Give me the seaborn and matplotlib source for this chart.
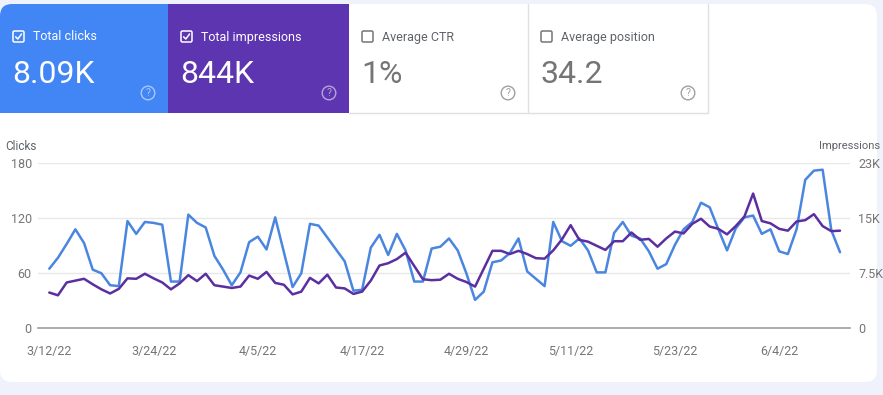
import numpy as np
import pandas as pd
import matplotlib
matplotlib.use("Agg")
import matplotlib.pyplot as plt
import matplotlib.dates as mdates
from matplotlib.patches import FancyBboxPatch, Rectangle, Circle
from matplotlib.lines import Line2D
import seaborn as sns

# ---------------- data ----------------
start_date = "2022-03-12"
clicks = [65, 77, 92, 108, 93, 64, 60, 47, 46, 117,
          103, 116, 115, 113, 51, 51, 124, 115, 110, 79,
          64, 47, 61, 94, 100, 86, 121, 83, 45, 60,
          114, 112, 99, 86, 73, 41, 42, 88, 102, 80,
          103, 85, 51, 51, 87, 89, 98, 85, 60, 31,
          40, 72, 74, 82, 98, 62, 54, 46, 116, 95,
          90, 98, 85, 61, 61, 104, 116, 101, 98, 84,
          65, 70, 91, 108, 116, 137, 132, 108, 85, 109,
          121, 123, 103, 108, 84, 81, 108, 162, 172, 173,
          107, 83]
impressions = [4875, 4500, 6250, 6500, 6750, 6000, 5313, 4750, 5375, 6813,
               6750, 7438, 6813, 6250, 5313, 6125, 7250, 6438, 7438, 5875,
               5688, 5500, 5688, 7188, 6750, 7688, 6188, 5938, 4625, 5000,
               6875, 6125, 7313, 5563, 5438, 4688, 5000, 6500, 8563, 8875,
               9438, 10313, 8500, 6688, 6563, 6625, 7438, 6750, 6313, 5688,
               8125, 10563, 10563, 10125, 10563, 10125, 9563, 9500, 10625, 12125,
               14063, 12063, 11813, 11250, 10688, 11875, 11875, 13063, 12063, 12188,
               11125, 12250, 13188, 12938, 14250, 14938, 13875, 13563, 12813, 13938,
               15250, 18375, 14625, 14313, 13563, 13313, 14563, 14750, 15563, 13938,
               13250, 13313]
x_tick_labels = ["3/12/22", "3/24/22", "4/5/22", "4/17/22", "4/29/22",
                 "5/11/22", "5/23/22", "6/4/22"]
left_ticks = [0, 60, 120, 180]
right_ticks = [0, 7500, 15000, 22500]
right_tick_labels = ["0", "7.5K", "15K", "23K"]
card_titles = ["Total clicks", "Total impressions", "Average CTR", "Average position"]
card_values = ["8.09K", "844K", "1%", "34.2"]
card_checked = [True, True, False, False]

# ---------------- style ----------------
sns.set_style("white")
plt.rcParams["font.family"] = ["Roboto", "DejaVu Sans"]

C_BLUE_CARD = "#4285f4"
C_PURPLE_CARD = "#5e35b1"
C_CLICKS = "#4a86e0"
C_IMPR = "#5b2fa0"
C_GREY_TXT = "#757575"
C_LABEL = "#5f6368"

W, H = 883, 395
fig = plt.figure(figsize=(W / 100, H / 100), dpi=100)
fig.patch.set_facecolor("#eff2fa")

# background / card layer in pixel coordinates
bg = fig.add_axes([0, 0, 1, 1])
bg.set_xlim(0, W)
bg.set_ylim(H, 0)
bg.axis("off")

bg.add_patch(FancyBboxPatch((0, 4), 877, 378, boxstyle="round,pad=0,rounding_size=12",
                            facecolor="white", edgecolor="none"))

# cards
card_x = [0, 168, 349, 528]
card_w = [168, 181, 179, 180]
card_top, card_bot = 4, 113
bg.add_patch(FancyBboxPatch((0, card_top), 190, card_bot - card_top,
                            boxstyle="round,pad=0,rounding_size=12",
                            facecolor=C_BLUE_CARD, edgecolor="none"))
bg.add_patch(Rectangle((0, 40), 168, card_bot - 40, facecolor=C_BLUE_CARD, edgecolor="none"))
bg.add_patch(Rectangle((168, card_top), 181, card_bot - card_top,
                       facecolor=C_PURPLE_CARD, edgecolor="none"))
border = "#e0e0e0"
bg.add_line(Line2D([349, 708], [card_bot, card_bot], color=border, lw=1))
bg.add_line(Line2D([528, 528], [card_top, card_bot], color=border, lw=1))
bg.add_line(Line2D([708, 708], [card_top, card_bot], color=border, lw=1))

for i in range(4):
    x0 = card_x[i] + 13
    checked = card_checked[i]
    fg = "white" if checked else C_GREY_TXT
    lab_c = "white" if checked else C_LABEL
    val_c = "white" if checked else C_GREY_TXT
    q_c = (1, 1, 1, 0.55) if checked else "#a0a0a0"
    # checkbox
    bg.add_patch(FancyBboxPatch((x0, 31), 11, 11, boxstyle="round,pad=0,rounding_size=1.5",
                                facecolor="none", edgecolor=fg, lw=1.1))
    if checked:
        bg.add_line(Line2D([x0 + 2.6, x0 + 4.8, x0 + 8.6], [36.8, 39.0, 34.0],
                           color="white", lw=1.1, solid_capstyle="round"))
    bg.text(x0 + 20, 37, card_titles[i], color=lab_c, fontsize=9, va="center", ha="left")
    bg.text(x0 - 1, 83, card_values[i], color=val_c, fontsize=23, va="baseline", ha="left")
    qx = card_x[i] + card_w[i] - 20
    bg.add_patch(Circle((qx, 93), 6.8, facecolor="none", edgecolor=q_c, lw=1))
    bg.text(qx, 93.5, "?", color=q_c, fontsize=7.5, ha="center", va="center")

bg.text(5, 146, "Clicks", color=C_LABEL, fontsize=8.5, ha="left", va="center")
bg.text(880, 146, "Impressions", color=C_LABEL, fontsize=8, ha="right", va="center")

# ---------------- chart ----------------
df = pd.DataFrame({
    "date": pd.date_range(start_date, periods=len(clicks), freq="D"),
    "clicks": clicks,
    "impressions": impressions,
})

ax = fig.add_axes([38 / W, (H - 328.3) / H, 812 / W, 165 / H])
ax.patch.set_alpha(0)
sns.lineplot(data=df, x="date", y="clicks", ax=ax, color=C_CLICKS, lw=1.8)
ax2 = ax.twinx()
sns.lineplot(data=df, x="date", y="impressions", ax=ax2, color=C_IMPR, lw=1.8)

d0 = mdates.date2num(pd.Timestamp(start_date))
ax.set_xlim(d0 - 1.3, d0 + 92.15)
ax.set_ylim(0, 180)
ax2.set_ylim(0, 22500)

tick_dates = pd.date_range(start_date, periods=len(x_tick_labels), freq="12D")
ax.set_xticks(mdates.date2num(tick_dates))
ax.set_xticklabels(x_tick_labels)
ax.set_yticks(left_ticks)
ax.set_yticklabels([str(t) for t in left_ticks])
ax2.set_yticks(right_ticks)
ax2.set_yticklabels(right_tick_labels)

ax.yaxis.grid(True, color="#e8e8e8", lw=1)
ax.xaxis.grid(False)
ax.set_axisbelow(True)
for a in (ax, ax2):
    for s in ("top", "left", "right", "bottom"):
        a.spines[s].set_visible(False)
    a.set_xlabel("")
    a.set_ylabel("")
ax.spines["bottom"].set_visible(True)
ax.spines["bottom"].set_color("#9e9e9e")
ax.spines["bottom"].set_linewidth(1.2)

ax.tick_params(axis="y", length=0, pad=4.5, labelsize=9, labelcolor=C_GREY_TXT)
ax.tick_params(axis="x", length=0, pad=12, labelsize=9, labelcolor=C_GREY_TXT)
ax2.tick_params(axis="y", length=0, pad=6, labelsize=9, labelcolor=C_GREY_TXT)

fig.savefig("out.png", dpi=100, facecolor=fig.get_facecolor())
